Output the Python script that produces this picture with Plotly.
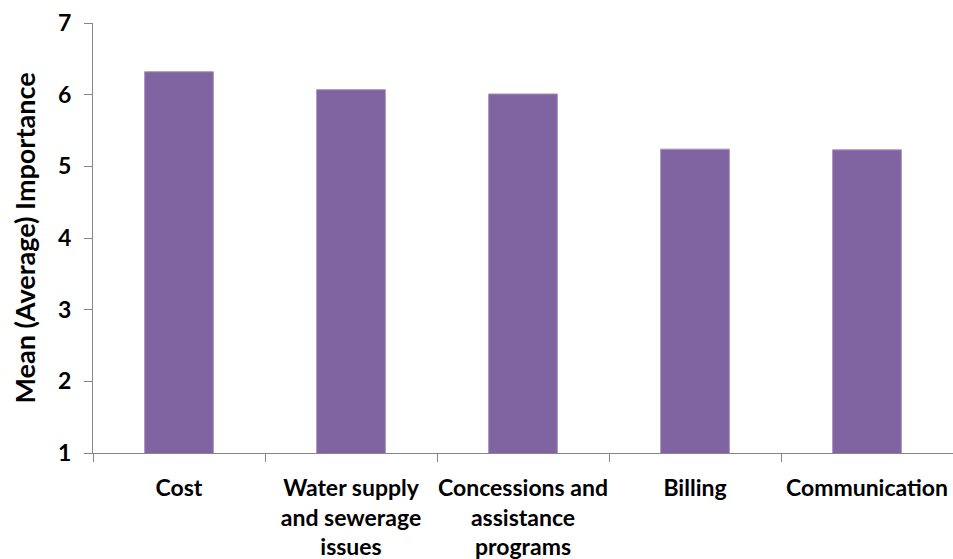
import plotly.graph_objects as go

categories = ["Cost", "Water supply<br>and sewerage<br>issues", "Concessions and<br>assistance<br>programs", "Billing", "Communication"]
values = [6.32, 6.07, 6.01, 5.24, 5.23]
y_ticks = [1, 2, 3, 4, 5, 6, 7]

font_family = "Lato"
axis_color = "#868686"

fig = go.Figure(
    go.Bar(
        x=categories,
        y=values,
        marker=dict(color="#8064A2", line=dict(color="#a995c2", width=1)),
    )
)

fig.update_layout(
    width=953,
    height=559,
    margin=dict(l=93, r=0, t=23, b=106),
    plot_bgcolor="white",
    paper_bgcolor="white",
    bargap=0.6,
    showlegend=False,
    font=dict(family=font_family, color="black"),
)

fig.update_yaxes(
    range=[1, 7],
    tickvals=y_ticks,
    showgrid=False,
    zeroline=False,
    showline=True,
    linecolor=axis_color,
    linewidth=1,
    ticks="outside",
    ticklen=8,
    tickcolor=axis_color,
    ticklabelstandoff=8,
    automargin=False,
    tickfont=dict(family=font_family, size=23, color="black", weight="bold"),
    title=dict(text="Mean (Average) Importance", font=dict(family=font_family, size=27, color="black", weight="bold"), standoff=14),
)

fig.update_xaxes(
    showgrid=False,
    showline=True,
    linecolor=axis_color,
    linewidth=1,
    ticks="outside",
    ticklen=8,
    tickcolor=axis_color,
    tickson="boundaries",
    tickangle=0,
    ticklabelstandoff=14,
    automargin=False,
    tickfont=dict(family=font_family, size=23, color="black", weight="bold"),
)

fig.write_html("out.html")
